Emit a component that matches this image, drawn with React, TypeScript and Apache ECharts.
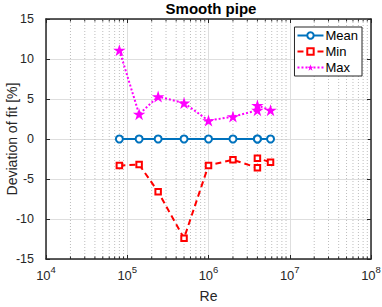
import React, { useEffect, useRef } from "react";
import * as echarts from "echarts";

const reValues = [8e4, 1.4e5, 2.4e5, 5e5, 1e6, 2e6, 4e6, 4e6, 5.8e6];
const meanDev = [0, 0, 0, 0, 0, 0, 0, 0, 0];
const minDev = [-3.3, -3.2, -6.6, -12.4, -3.3, -2.6, -3.6, -2.4, -2.9];
const maxDev = [11.1, 3.1, 5.3, 4.5, 2.3, 2.8, 3.6, 4.2, 3.6];
const seriesNames = ["Mean", "Min", "Max"];
const xDecades = [4, 5, 6, 7, 8];
const yTicks = [-15, -10, -5, 0, 5, 10, 15];

const minorValues: number[] = [];
for (let d = xDecades[0]; d < xDecades[xDecades.length - 1]; d++) {
  for (let m = 2; m <= 9; m++) minorValues.push(m * Math.pow(10, d));
}

const STAR =
  "path://M100,0L122.45,69.1L195.1,69.1L136.3,111.8L158.8,180.9L100,138.2L41.2,180.9L63.7,111.8L4.9,69.1L77.55,69.1Z";

const AX = "#262626";
const FONT = "Liberation Sans, Arial, sans-serif";

export default function App() {
  const ref = useRef<HTMLDivElement>(null);
  useEffect(() => {
    if (!ref.current) return;
    const chart = echarts.init(ref.current, undefined, { renderer: "svg" });
    const yMin = yTicks[0];
    const yMax = yTicks[yTicks.length - 1];
    const xMin = Math.pow(10, xDecades[0]);
    const xMax = Math.pow(10, xDecades[xDecades.length - 1]);
    const zip = (ys: number[]) => reValues.map((x, i) => [x, ys[i]]);
    chart.setOption({
      animation: false,
      textStyle: { fontFamily: FONT },
      title: {
        text: "Smooth pipe",
        left: 206,
        textAlign: "center",
        top: 0,
        padding: [1, 5, 5, 5],
        textStyle: { fontSize: 15, fontWeight: "bold", color: "#000", fontFamily: FONT },
      },
      grid: { left: 46, right: 11, top: 19, bottom: 48, outerBoundsMode: "none" },
      legend: {
        data: seriesNames,
        orient: "vertical",
        right: 20,
        top: 27,
        backgroundColor: "#fff",
        borderColor: AX,
        borderWidth: 1,
        borderRadius: 0,
        padding: [2, 4, 2, 2],
        itemWidth: 26,
        itemHeight: 8,
        itemGap: 3,
        textStyle: { fontSize: 13, color: "#000", fontFamily: FONT, padding: [0, 0, 0, -3] },
      },
      xAxis: [
        {
          type: "log",
          logBase: 10,
          min: xMin,
          max: xMax,
          name: "Re",
          nameLocation: "middle",
          nameGap: 30,
          nameMoveOverlap: false,
          nameTextStyle: { fontSize: 14, color: AX },
          axisLine: { show: true, onZero: false, lineStyle: { color: AX, width: 1.5 } },
          axisTick: { show: true, inside: true, length: 4, lineStyle: { color: AX } },
          splitLine: { show: true, lineStyle: { color: "#dedede", width: 1 } },
          axisLabel: {
            margin: 8,
            color: AX,
            formatter: (v: number) => `{b|10}{s|${Math.round(Math.log10(v))}}`,
            rich: {
              b: { fontSize: 13, color: AX, fontFamily: FONT, verticalAlign: "bottom", lineHeight: 15 },
              s: { fontSize: 9.5, color: AX, fontFamily: FONT, verticalAlign: "bottom", lineHeight: 15, padding: [0, 0, 8, 0] },
            },
          },
        },
        {
          type: "log",
          logBase: 10,
          min: xMin,
          max: xMax,
          position: "top",
          axisLine: { show: true, onZero: false, lineStyle: { color: AX, width: 1.5 } },
          axisTick: { show: true, inside: true, length: 4, lineStyle: { color: AX } },
          axisLabel: { show: false },
          splitLine: { show: false },
        },
      ],
      yAxis: [
        {
          type: "value",
          min: yMin,
          max: yMax,
          interval: 5,
          name: "Deviation of fit [%]",
          nameLocation: "middle",
          nameGap: 27,
          nameMoveOverlap: false,
          nameTextStyle: { fontSize: 14, color: AX },
          axisLine: { show: true, onZero: false, lineStyle: { color: AX, width: 1.5 } },
          axisTick: { show: true, inside: true, length: 4, lineStyle: { color: AX } },
          splitLine: { show: true, lineStyle: { color: "#dedede", width: 1 } },
          axisLabel: { fontSize: 12.5, color: AX, margin: 12 },
        },
        {
          type: "value",
          min: yMin,
          max: yMax,
          interval: 5,
          position: "right",
          axisLine: { show: true, onZero: false, lineStyle: { color: AX, width: 1.5 } },
          axisTick: { show: true, inside: true, length: 4, lineStyle: { color: AX } },
          axisLabel: { show: false },
          splitLine: { show: false },
        },
      ],
      series: [
        {
          type: "custom",
          name: "minor",
          silent: true,
          z: 1,
          clip: false,
          data: minorValues.map((v) => [v, 0]),
          encode: { x: 0, y: 1 },
          renderItem: (params: any, api: any) => {
            const v = api.value(0);
            const top = api.coord([v, yMax]);
            const bot = api.coord([v, yMin]);
            return {
              type: "group",
              children: [
                {
                  type: "line",
                  shape: { x1: top[0], y1: top[1], x2: bot[0], y2: bot[1] },
                  style: { stroke: "#bdbdbd", lineWidth: 1, lineDash: [1, 2] },
                },
                {
                  type: "line",
                  shape: { x1: bot[0], y1: bot[1], x2: bot[0], y2: bot[1] - 2.5 },
                  style: { stroke: AX, lineWidth: 1 },
                },
                {
                  type: "line",
                  shape: { x1: top[0], y1: top[1], x2: top[0], y2: top[1] + 2.5 },
                  style: { stroke: AX, lineWidth: 1 },
                },
              ],
            };
          },
        },
        {
          type: "line",
          name: seriesNames[0],
          data: zip(meanDev),
          z: 5,
          color: "#0072BD",
          lineStyle: { color: "#0072BD", width: 2 },
          symbol: "emptyCircle",
          symbolSize: 7,
          itemStyle: { color: "#0072BD", borderWidth: 1.6, borderColor: "#0072BD" },
        },
        {
          type: "line",
          name: seriesNames[1],
          data: zip(minDev),
          z: 4,
          color: "#FF0000",
          lineStyle: { color: "#FF0000", width: 2, type: [6, 4] },
          symbol: "emptyRect",
          symbolSize: 5.5,
          itemStyle: { color: "#FF0000", borderWidth: 1.6, borderColor: "#FF0000" },
        },
        {
          type: "line",
          name: seriesNames[2],
          data: zip(maxDev),
          z: 3,
          color: "#FF00FF",
          lineStyle: { color: "#FF00FF", width: 2, type: [2, 2] },
          symbol: STAR,
          symbolSize: [12.5, 12],
          itemStyle: { color: "#FF00FF", borderWidth: 0 },
        },
      ],
    });
    return () => chart.dispose();
  }, []);
  return (
    <div
      ref={ref}
      style={{ position: "fixed", left: 0, top: 0, width: 382, height: 307, background: "#fff" }}
    />
  );
}
